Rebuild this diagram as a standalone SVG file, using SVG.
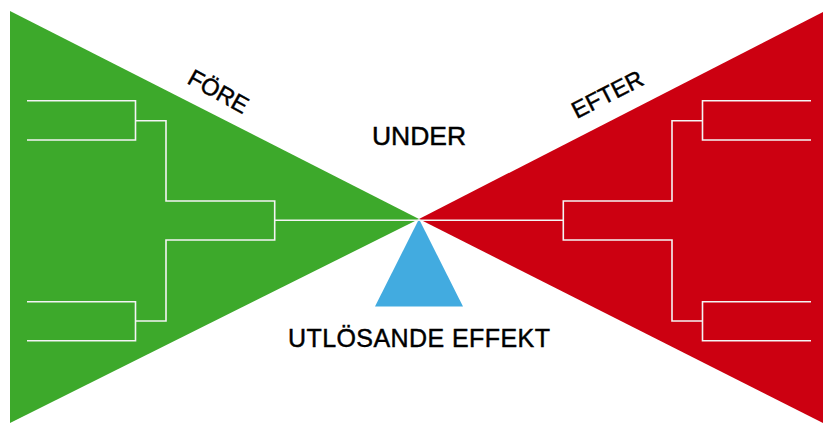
<svg xmlns="http://www.w3.org/2000/svg" width="824" height="424" viewBox="0 0 824 424">
<style>
.lbl{font-family:"Liberation Sans",Arial,sans-serif;fill:#000;stroke:#000;stroke-width:0.45;text-anchor:middle}
.br{fill:none;stroke:#f4f4f4;stroke-width:1.6}
</style>
<rect width="824" height="424" fill="#fff"/>
<g id="fore">
<polygon points="10,11 419,219 10,423" fill="#3da92b"/>
<text class="lbl" font-size="23.5" transform="translate(214.5,98.5) rotate(29)">FÖRE</text>
</g>
<g id="efter">
<polygon points="823,12 419,219 823,423" fill="#cc0011"/>
<text class="lbl" font-size="23.5" transform="translate(611,101.5) rotate(-27)">EFTER</text>
</g>
<g id="under">
<text class="lbl" x="419" y="145" font-size="26.5">UNDER</text>
</g>
<g id="utlosande">
<polygon points="419,219 463,306.5 375,306.5" fill="#42abe0"/>
<text class="lbl" x="419" y="346.5" font-size="25" textLength="262">UTLÖSANDE EFFEKT</text>
</g>
<g id="connectors">
<path class="br" d="M27,100.7H135.5V140H27M135.5,120.7H166V201H274.7V240H166V321H135.5M27,301.7H135.5V340.7H27M274.7,220.3H419"/>
<path class="br" d="M811,100.7H702.5V140H811M702.5,120.7H672V201H563.3V240H672V321H702.5M811,301.7H702.5V340.7H811M563.3,220.3H419"/>
</g>
</svg>
